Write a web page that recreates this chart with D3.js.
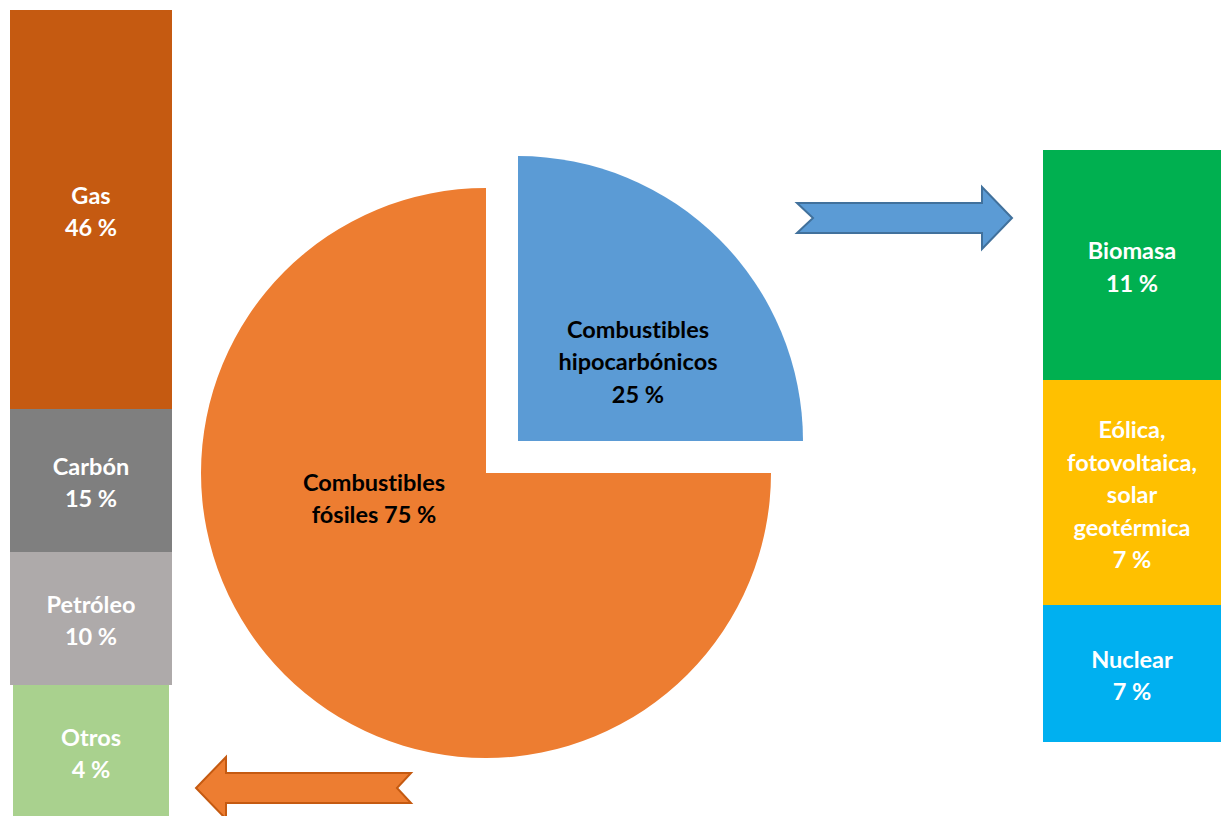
<!DOCTYPE html>
<html><head><meta charset="utf-8">
<script src="https://cdn.jsdelivr.net/npm/d3@7"></script>
<style>body{margin:0;background:#fff;}svg{display:block;font-family:Lato,"Open Sans",sans-serif;font-weight:bold;font-variant-ligatures:none;font-feature-settings:"liga" 0;}</style>
</head><body>
<svg id="c" width="1221" height="816"></svg>
<script>
// ---- data ----
const pieCategories = ["Combustibles hipocarbónicos", "Combustibles fósiles"];
const pieValues = [25, 75];
const pieLabels = [["Combustibles", "hipocarbónicos", "25 %"], ["Combustibles", "fósiles 75 %"]];
const pieColors = ["#5b9bd5", "#ed7d31"];

const fossilCategories = ["Otros", "Petróleo", "Carbón", "Gas"];
const fossilValues = [4, 10, 15, 46];
const fossilColors = ["#a9d18e", "#aeaaaa", "#7f7f7f", "#c55a11"];

const lowCarbonCategories = ["Nuclear", "Eólica, fotovoltaica, solar geotérmica", "Biomasa"];
const lowCarbonLabels = [["Nuclear"], ["Eólica,", "fotovoltaica,", "solar", "geotérmica"], ["Biomasa"]];
const lowCarbonValues = [7, 7, 11];
const lowCarbonColors = ["#00b0f0", "#ffc000", "#00b050"];

const svg = d3.select("#c");
const lineH = 32.5, fs = 23.5, base = 10.5, pieBase = 9;

function cumul(vals){ const c=[0]; vals.forEach(v=>c.push(c[c.length-1]+v)); return c; }

function stack(vals, cats, labels, colors, x0, x1, yRange, insets){
  const c = cumul(vals);
  const y = d3.scaleLinear().domain(c).range(yRange);
  const g = svg.append("g");
  vals.forEach((v,i)=>{
    const top = y(c[i+1]), bot = y(c[i]);
    const ins = insets ? insets[i] : 0;
    g.append("rect").attr("x", x0+ins).attr("y", top).attr("width", x1-x0-2*ins).attr("height", bot-top)
      .attr("fill", colors[i]);
    const lines = labels[i].concat([v + " %"]);
    const cy = (top+bot)/2;
    const t = g.append("text").attr("text-anchor","middle").attr("fill","#fff").attr("font-size",fs);
    lines.forEach((l,k)=>{
      t.append("tspan").attr("x",(x0+x1)/2).attr("y", cy + (k-(lines.length-1)/2)*lineH + base).text(l);
    });
  });
}

// left stacked bar (fossil)
stack(fossilValues, fossilCategories, fossilCategories.map(d=>[d]), fossilColors, 10, 172, [818, 685, 552, 409, 10], [3,0,0,0]);
// right stacked bar (low carbon)
stack(lowCarbonValues, lowCarbonCategories, lowCarbonLabels, lowCarbonColors, 1043, 1221, [742, 605, 380, 150], null);

// pie
const cx = 486, cy = 473, R = 285, explode = 45.25;
const pie = d3.pie().sort(null).startAngle(0).endAngle(2*Math.PI);
const arcs = pie(pieValues);
const arc = d3.arc().innerRadius(0).outerRadius(R);
const labelOffsets = [[120, -80], [-112, 25]];
arcs.forEach((a,i)=>{
  const mid = (a.startAngle + a.endAngle)/2;
  const off = i===0 ? explode : 0;
  const ox = cx + off*Math.sin(mid), oy = cy - off*Math.cos(mid);
  const g = svg.append("g").attr("transform", `translate(${ox},${oy})`);
  g.append("path").attr("d", arc(a)).attr("fill", pieColors[i]);
  const lines = pieLabels[i];
  const t = g.append("text").attr("text-anchor","middle").attr("fill","#000").attr("font-size",fs);
  lines.forEach((l,k)=>{
    t.append("tspan").attr("x", labelOffsets[i][0]).attr("y", labelOffsets[i][1] + (k-(lines.length-1)/2)*lineH + pieBase).text(l);
  });
});

// arrows (decorative)
function arrow(points, fill, stroke){
  svg.append("path").attr("d", d3.line()(points) + "Z").attr("fill", fill).attr("stroke", stroke).attr("stroke-width", 2).attr("stroke-linejoin","miter");
}
arrow([[797,203],[982,203],[982,187],[1012,218],[982,249],[982,233],[797,233],[813,218]], "#5b9bd5", "#41719c");
arrow([[411,773],[226,773],[226,757],[196,788],[226,819],[226,803],[411,803],[397,788]], "#ed7d31", "#c55a11");
</script>
</body></html>
